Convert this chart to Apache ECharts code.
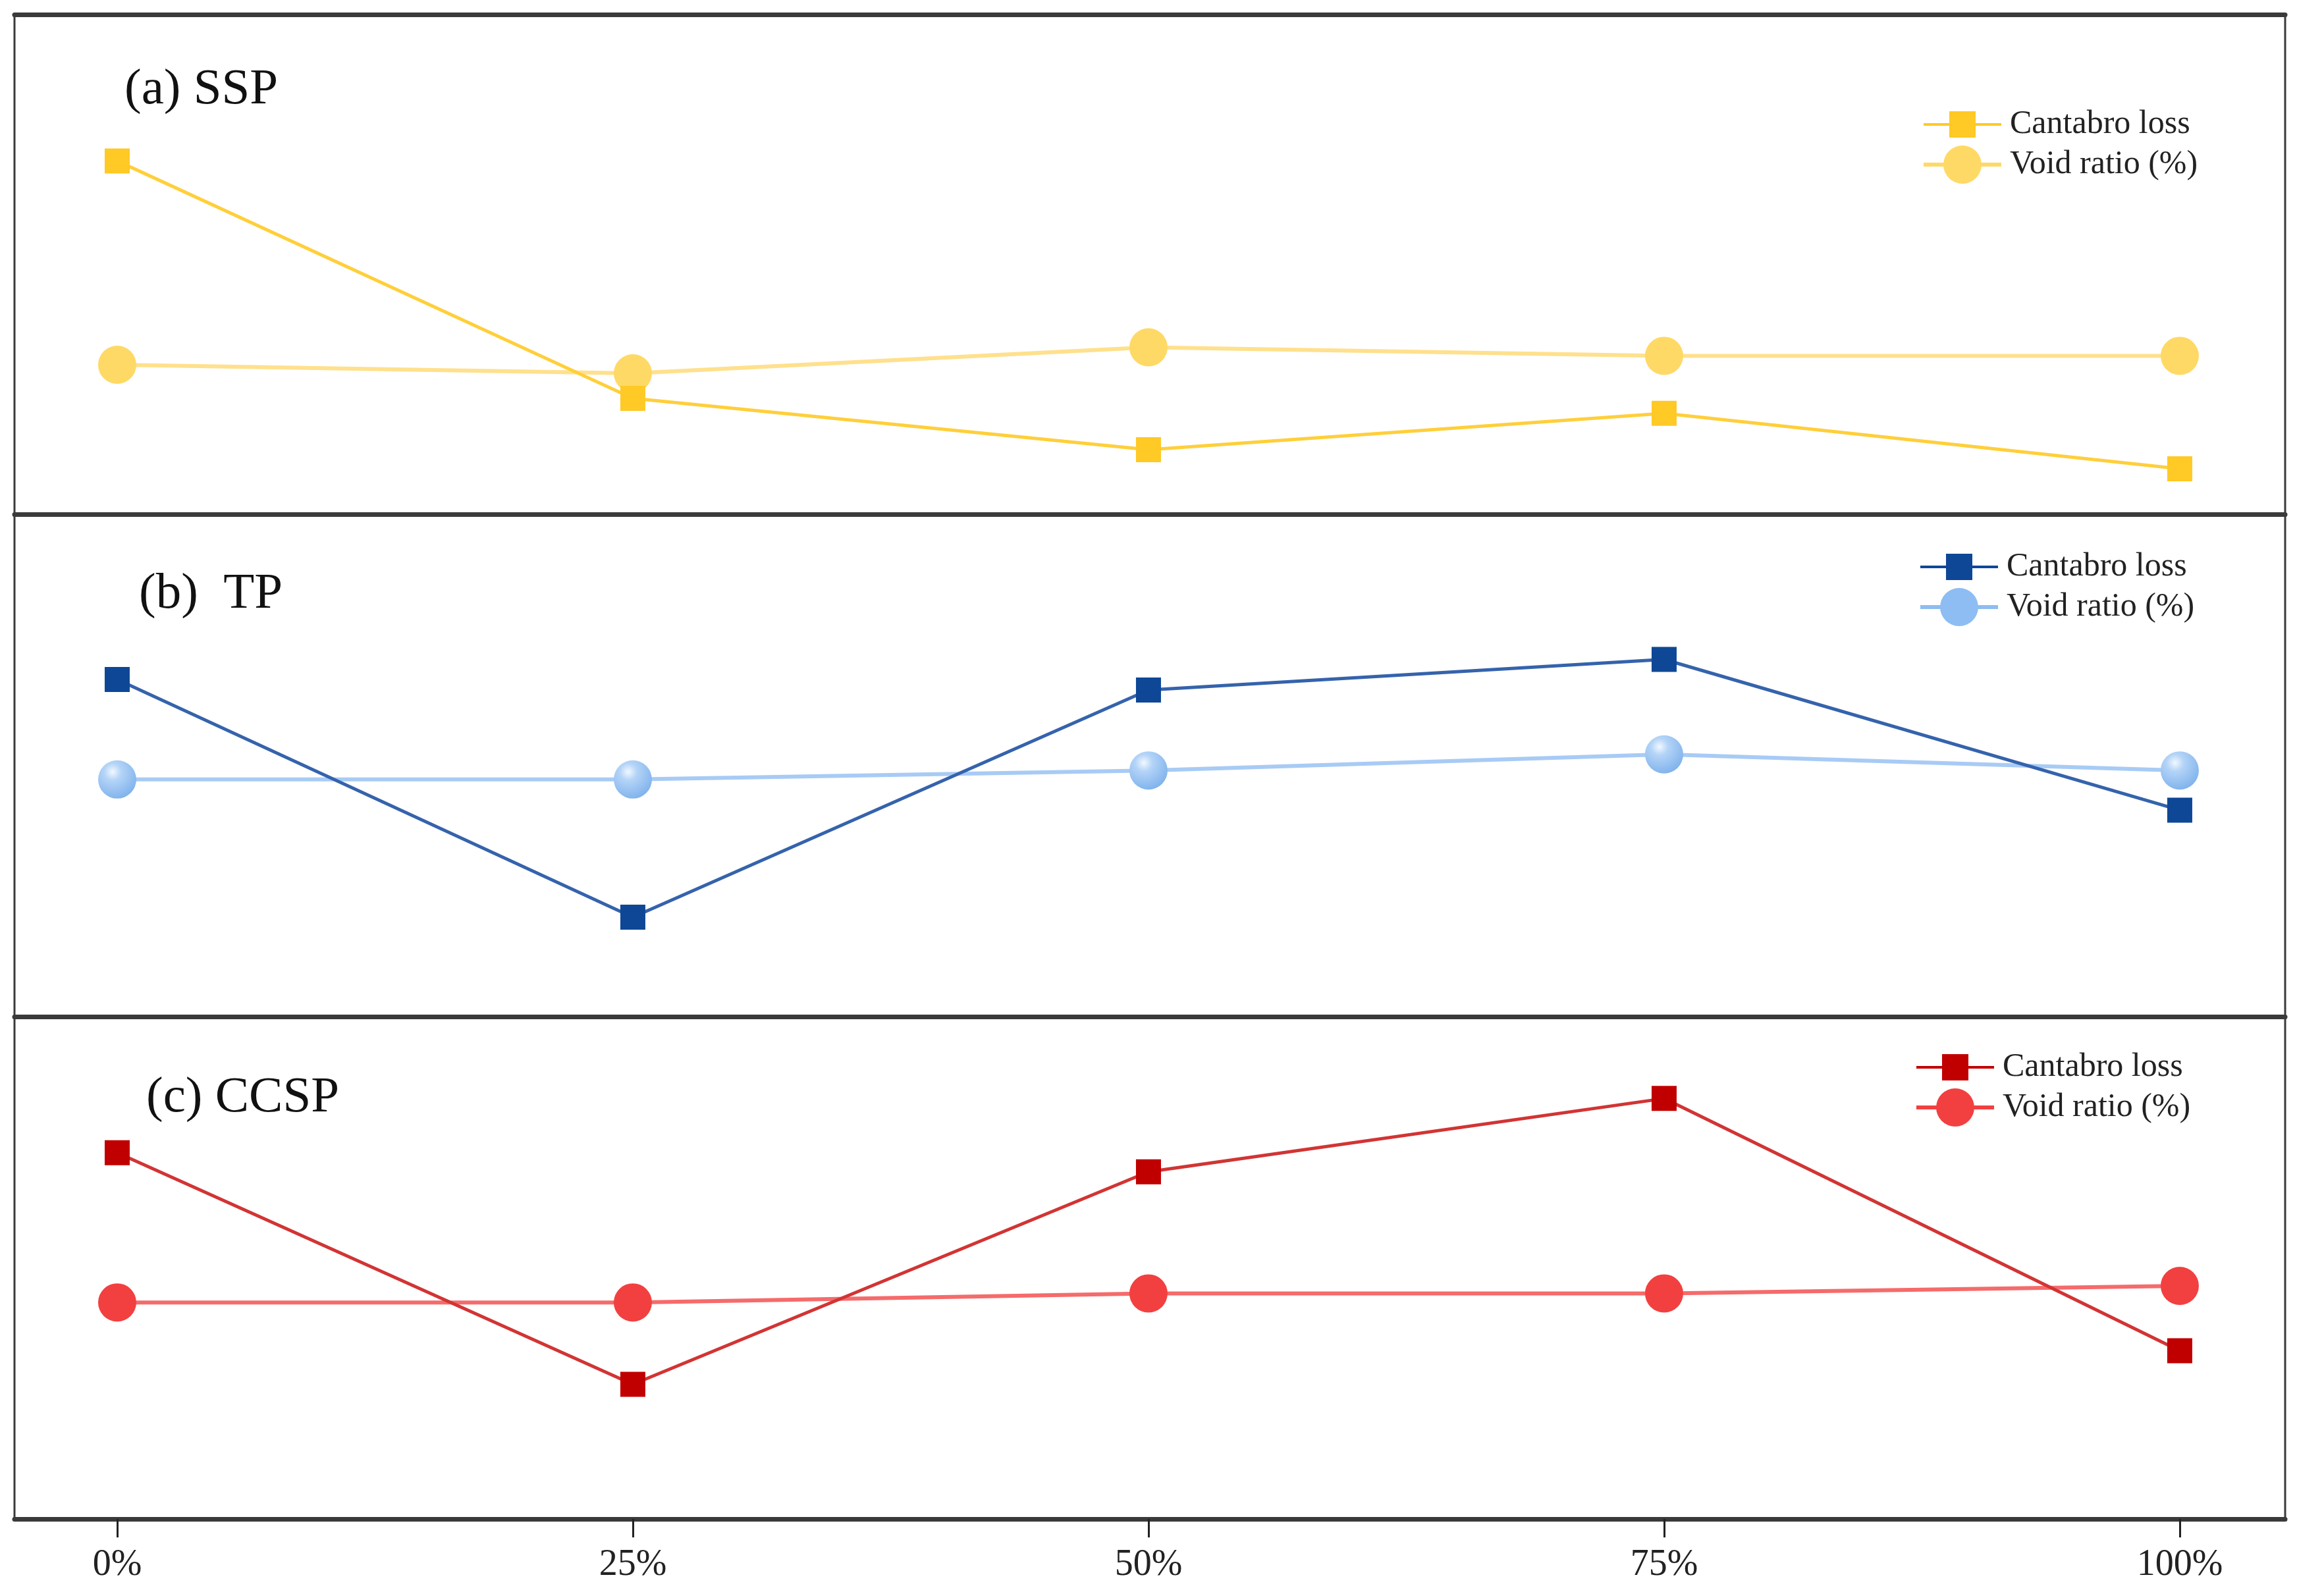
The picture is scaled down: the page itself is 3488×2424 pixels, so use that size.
<!DOCTYPE html>
<html>
<head>
<meta charset="utf-8">
<script src="https://cdn.jsdelivr.net/npm/echarts@6/dist/echarts.min.js"></script>
<style>html,body{margin:0;padding:0;background:#fff}#c{width:3488px;height:2424px}</style>
</head>
<body>
<div id="c"></div>
<script>
// ---- data (relative values; no y scale is shown) ----
const categories = [0, 25, 50, 75, 100];
const tickLabels = ['0%', '25%', '50%', '75%', '100%'];
const panelTitles = ['(a) SSP', '(b)  TP', '(c) CCSP'];
const seriesNames = ['Cantabro loss', 'Void ratio (%)'];
const sspCantabro = [70.7, 23.2, 12.9, 20.2, 9.1];
const sspVoid = [29.9, 28.2, 33.4, 31.7, 31.7];
const tpCantabro = [67.1, 19.8, 65.0, 71.1, 41.1];
const tpVoid = [47.2, 47.2, 49.0, 52.2, 49.0];
const ccspCantabro = [72.9, 26.8, 69.1, 83.7, 33.5];
const ccspVoid = [43.1, 43.1, 44.9, 44.9, 46.4];

const FONT = 'Liberation Serif, Times New Roman, serif';
const frame = '#3a3a3a';

const panels = [
  { top: 22, height: 759, cant: sspCantabro, vd: sspVoid,
    sq: '#FFC926', sqLine: '#FFCF3A', ci: '#FFD966', ciLine: '#FFE08C',
    titleLeft: 189, titleTop: 98, legTop: 164, legLeft: 2921 },
  { top: 781, height: 763, cant: tpCantabro, vd: tpVoid,
    sq: '#0E4796', sqLine: '#3563AC', ci: { type: 'radial', x: 0.38, y: 0.3, r: 0.75,
      colorStops: [{ offset: 0, color: '#F2F8FF' }, { offset: 0.3, color: '#B4D4F7' }, { offset: 1, color: '#7DB1EC' }] },
    ciLegend: '#8DBDF2', ciLine: '#A8CBF5',
    titleLeft: 211, titleTop: 864, legTop: 836, legLeft: 2916 },
  { top: 1544, height: 763, cant: ccspCantabro, vd: ccspVoid,
    sq: '#C00000', sqLine: '#D23434', ci: '#F24040', ciLine: '#F56B6B',
    titleLeft: 222, titleTop: 1629, legTop: 1596, legLeft: 2910 }
];

const sqIcon = 'path://M0,27H118V31H0Z M39,9H79V49H39Z';
const ciIcon = 'path://M0,26H118V32H0Z M30,29A29,29 0 1,1 88,29A29,29 0 1,1 30,29Z';

const grids = [], xAxes = [], yAxes = [], series = [], legends = [], titles = [];
const zw = ['', '\u200b', '\u200b\u200b'];

panels.forEach((p, i) => {
  const last = i === panels.length - 1;
  grids.push({ left: 22, right: 18, top: p.top, height: p.height, show: true,
    borderColor: frame, borderWidth: 3, backgroundColor: 'transparent' });
  xAxes.push({
    type: 'value', gridIndex: i, min: -4.98, max: 105.11, position: 'bottom',
    axisLine: { show: true, onZero: false, lineStyle: { color: frame, width: 7 } },
    axisTick: { show: last, customValues: categories, length: 28, inside: false, lineStyle: { color: '#222', width: 3 } },
    axisLabel: { show: last, customValues: categories, margin: 42,
      formatter: v => tickLabels[categories.indexOf(v)] || '',
      fontFamily: FONT, fontSize: 56, color: '#222' },
    splitLine: { show: false }
  });
  if (i === 0) {
    xAxes.push({
      type: 'value', gridIndex: i, min: -4.98, max: 105.11, position: 'top',
      axisLine: { show: true, onZero: false, lineStyle: { color: frame, width: 7 } },
      axisTick: { show: false }, axisLabel: { show: false }, splitLine: { show: false }
    });
  }
  yAxes.push({ type: 'value', gridIndex: i, min: 0, max: 100, show: false, splitLine: { show: false } });
  const xIdx = i === 0 ? 0 : i + 1;
  const nameC = seriesNames[0] + zw[i];
  const nameV = seriesNames[1] + zw[i];
  series.push({
    name: nameV, type: 'line', xAxisIndex: xIdx, yAxisIndex: i,
    data: categories.map((c, k) => [c, p.vd[k]]),
    symbol: 'circle', symbolSize: 58,
    lineStyle: { color: p.ciLine, width: 6 },
    itemStyle: { color: p.ci, borderWidth: 0 },
    emphasis: { disabled: true }, animation: false, z: 2
  });
  series.push({
    name: nameC, type: 'line', xAxisIndex: xIdx, yAxisIndex: i,
    data: categories.map((c, k) => [c, p.cant[k]]),
    symbol: 'rect', symbolSize: 38,
    lineStyle: { color: p.sqLine, width: 5 },
    itemStyle: { color: p.sq, borderWidth: 0 },
    emphasis: { disabled: true }, animation: false, z: 3
  });
  legends.push({
    orient: 'vertical', left: p.legLeft, top: p.legTop, padding: 0,
    itemWidth: 118, itemHeight: 58, itemGap: 7, selectedMode: false,
    textStyle: { fontFamily: FONT, fontSize: 50, color: '#222', padding: [0, 0, 0, 8] },
    data: [
      { name: nameC, icon: sqIcon, itemStyle: { color: p.sq, borderWidth: 0 } },
      { name: nameV, icon: ciIcon, itemStyle: { color: p.ciLegend || p.ci, borderWidth: 0 } }
    ]
  });
  titles.push({ text: panelTitles[i], left: p.titleLeft, top: p.titleTop, padding: 0,
    textStyle: { fontFamily: FONT, fontSize: 77, fontWeight: 'normal', color: '#111' } });
});

const chart = echarts.init(document.getElementById('c'));
chart.setOption({
  backgroundColor: '#ffffff',
  animation: false,
  title: titles,
  legend: legends,
  grid: grids,
  xAxis: xAxes,
  yAxis: yAxes,
  series: series
});
</script>
</body>
</html>
